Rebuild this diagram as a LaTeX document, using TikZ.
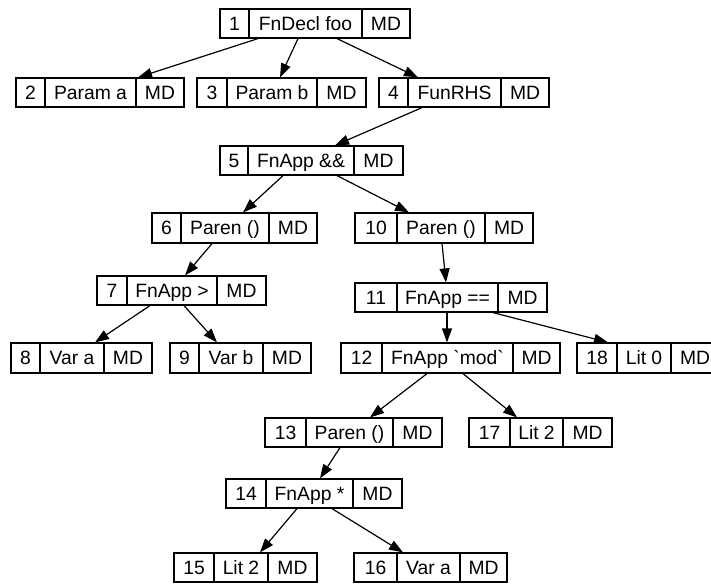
\documentclass[tikz,border=0pt]{standalone}
\usepackage{fontspec}
\setmainfont{Liberation Sans}
\usetikzlibrary{arrows.meta}
\tikzset{
  recbox/.style={draw, line width=1.2pt, inner sep=0pt, rectangle},
  fieldtxt/.style={inner sep=0pt, anchor=base, font=\fontsize{19.3}{22}\selectfont},
  edge/.style={line width=1.2pt, -{Triangle[length=14pt,width=10pt]}},
}
% \rec{id}{x0}{x1}{x2}{x3}{ytop}{ybot}{num}{label}
\newcommand{\rec}[9]{%
  \pgfmathsetmacro{\rw}{#5-#2}%
  \pgfmathsetmacro{\rh}{#7-#6}%
  \pgfmathsetmacro{\rcx}{(#2+#5)/2}%
  \pgfmathsetmacro{\rcy}{(#6+#7)/2}%
  \pgfmathsetmacro{\rby}{(#6+#7)/2+6.5}%
  \pgfmathsetmacro{\ca}{(#2+#3)/2}%
  \pgfmathsetmacro{\cb}{(#3+#4)/2}%
  \pgfmathsetmacro{\cc}{(#4+#5)/2}%
  \node[recbox, minimum width=\rw pt, minimum height=\rh pt] (#1) at (\rcx,\rcy) {};
  \draw[line width=1.2pt] (#3,#6) -- (#3,#7) (#4,#6) -- (#4,#7);
  \node[fieldtxt] (#1num) at (\ca,\rby) {#8};
  \node[fieldtxt] (#1lab) at (\cb,\rby) {#9};
  \node[fieldtxt] (#1md) at (\cc,\rby) {MD};
}
\begin{document}
\begin{tikzpicture}[x=1pt,y=-1pt]
\useasboundingbox (0,0) rectangle (711,584);
\rec{n1}{220}{249}{362}{410}{9}{38}{1}{FnDecl foo}
\rec{n2}{16}{45}{136}{184}{78}{107}{2}{Param a}
\rec{n3}{197}{227}{317}{366}{78}{107}{3}{Param b}
\rec{n4}{379}{408}{501}{549}{78}{107}{4}{FunRHS}
\rec{n5}{220}{248}{354}{403}{146}{175}{5}{FnApp \&\&}
\rec{n6}{152}{181}{269}{317}{213}{243}{6}{Paren ()}
\rec{n7}{97}{127}{217}{266}{276}{305}{7}{FnApp >}
\rec{n8}{11}{40}{104}{152}{343}{373}{8}{Var a}
\rec{n9}{170}{199}{263}{311}{343}{373}{9}{Var b}
\rec{n10}{355}{397}{485}{533}{213}{243}{10}{Paren ()}
\rec{n11}{355}{397}{498}{547}{283}{312}{11}{FnApp ==}
\rec{n12}{341}{382}{513}{560}{343}{373}{12}{FnApp \textasciigrave mod\textasciigrave}
\rec{n18}{577}{617}{671}{719}{343}{373}{18}{Lit 0}
\rec{n13}{265}{306}{393}{442}{418}{447}{13}{Paren ()}
\rec{n17}{469}{510}{563}{612}{418}{447}{17}{Lit 2}
\rec{n14}{226}{266}{353}{402}{479}{508}{14}{FnApp *}
\rec{n15}{174}{214}{268}{317}{553}{582}{15}{Lit 2}
\rec{n16}{354}{397}{460}{507}{553}{582}{16}{Var a}

\draw[edge] ([xshift=-57pt]n1.south) -- ([xshift=38pt]n2.north);
\draw[edge] ([xshift=-17pt]n1.south) -- ([xshift=-1.5pt]n3.north);
\draw[edge] ([xshift=22pt]n1.south) -- ([xshift=-46pt]n4.north);
\draw[edge] ([xshift=-42pt]n4.south) -- ([xshift=23.5pt]n5.north);
\draw[edge] ([xshift=-28.5pt]n5.south) -- ([xshift=8.5pt]n6.north);
\draw[edge] ([xshift=25.5pt]n5.south) -- ([xshift=-35pt]n10.north);
\draw[edge] ([xshift=-22.5pt]n6.south) -- ([xshift=3.5pt]n7.north);
\draw[edge] ([xshift=-31.5pt]n7.south) -- ([xshift=13.5pt]n8.north);
\draw[edge] ([xshift=2.5pt]n7.south) -- ([xshift=-23.5pt]n9.north);
\draw[edge] ([xshift=-2pt]n10.south) -- ([xshift=-5pt]n11.north);
\draw[edge] ([xshift=-4pt]n11.south) -- ([xshift=-3.5pt]n12.north);
\draw[edge] ([xshift=42pt]n11.south) -- ([xshift=-40pt]n18.north);
\draw[edge] ([xshift=-23.5pt]n12.south) -- ([xshift=16.5pt]n13.north);
\draw[edge] ([xshift=12.5pt]n12.south) -- ([xshift=-23.5pt]n17.north);
\draw[edge] ([xshift=-13.5pt]n13.south) -- ([xshift=6pt]n14.north);
\draw[edge] ([xshift=-17pt]n14.south) -- ([xshift=14.5pt]n15.north);
\draw[edge] ([xshift=18pt]n14.south) -- ([xshift=-27.5pt]n16.north);
\end{tikzpicture}
\end{document}
